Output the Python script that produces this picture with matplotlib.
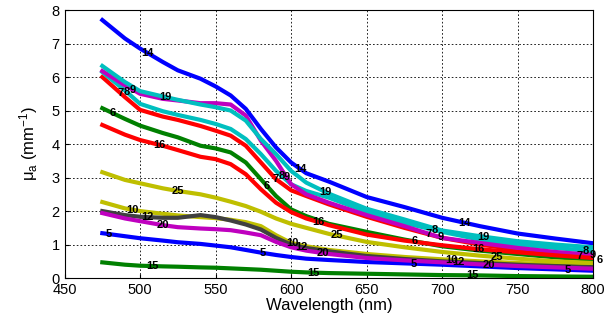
import matplotlib
matplotlib.use('Agg')
import matplotlib.pyplot as plt
import numpy as np

plt.rcParams['font.family'] = 'Liberation Sans'
plt.rcParams['mathtext.fontset'] = 'custom'
plt.rcParams['mathtext.rm'] = 'Liberation Sans'
plt.rcParams['mathtext.it'] = 'Liberation Sans'

wl = [475, 490, 500, 515, 525, 540, 550, 560, 570, 580, 590,
      600, 610, 625, 650, 675, 700, 725, 750, 775, 800]

# absorption coefficient mu_a (mm^-1), one list per sample
mu_5 = [1.34, 1.25, 1.19, 1.12, 1.07, 1.02, 0.97, 0.92, 0.84, 0.76, 0.69,
        0.63, 0.58, 0.54, 0.48, 0.44, 0.40, 0.35, 0.30, 0.26, 0.22]
mu_6 = [5.07, 4.75, 4.55, 4.33, 4.20, 3.95, 3.87, 3.75, 3.45, 2.95, 2.45,
        2.05, 1.85, 1.62, 1.38, 1.15, 0.95, 0.82, 0.72, 0.62, 0.55]
mu_7 = [6.00, 5.40, 5.02, 4.82, 4.72, 4.54, 4.40, 4.25, 3.95, 3.45, 2.95,
        2.62, 2.45, 2.20, 1.83, 1.50, 1.20, 1.00, 0.85, 0.72, 0.62]
mu_8 = [6.15, 5.60, 5.20, 4.98, 4.87, 4.72, 4.60, 4.45, 4.15, 3.70, 3.20,
        2.80, 2.60, 2.40, 1.98, 1.65, 1.38, 1.15, 1.00, 0.90, 0.80]
mu_9 = [6.18, 5.75, 5.50, 5.35, 5.30, 5.22, 5.22, 5.18, 4.85, 4.10, 3.50,
        2.80, 2.50, 2.25, 1.88, 1.55, 1.20, 1.05, 0.90, 0.78, 0.69]
mu_10 = [2.27, 2.08, 2.00, 1.92, 1.87, 1.82, 1.79, 1.74, 1.67, 1.55, 1.28,
         1.05, 0.95, 0.84, 0.72, 0.63, 0.56, 0.50, 0.45, 0.41, 0.38]
mu_12 = [2.00, 1.88, 1.83, 1.80, 1.80, 1.88, 1.82, 1.72, 1.60, 1.45, 1.20,
         1.00, 0.90, 0.80, 0.66, 0.57, 0.50, 0.45, 0.40, 0.36, 0.33]
mu_14 = [7.70, 7.15, 6.85, 6.45, 6.20, 5.95, 5.72, 5.45, 5.05, 4.45, 3.90,
         3.45, 3.13, 2.88, 2.42, 2.12, 1.80, 1.55, 1.33, 1.18, 1.04]
mu_15 = [0.47, 0.40, 0.37, 0.35, 0.34, 0.32, 0.31, 0.29, 0.27, 0.25, 0.22,
         0.19, 0.17, 0.15, 0.13, 0.11, 0.09, 0.08, 0.06, 0.05, 0.04]
mu_16 = [4.57, 4.28, 4.12, 3.95, 3.82, 3.62, 3.55, 3.40, 3.10, 2.65, 2.25,
         1.97, 1.78, 1.58, 1.30, 1.12, 0.98, 0.86, 0.77, 0.68, 0.60]
mu_19 = [6.33, 5.85, 5.58, 5.42, 5.32, 5.18, 5.10, 5.00, 4.70, 4.15, 3.70,
         3.20, 2.85, 2.52, 2.07, 1.75, 1.42, 1.25, 1.10, 1.00, 0.92]
mu_20 = [1.94, 1.78, 1.70, 1.58, 1.52, 1.48, 1.46, 1.43, 1.36, 1.28, 1.08,
         0.92, 0.82, 0.72, 0.60, 0.53, 0.47, 0.41, 0.36, 0.32, 0.28]
mu_25 = [3.16, 2.93, 2.83, 2.68, 2.60, 2.50, 2.40, 2.28, 2.15, 1.98, 1.78,
         1.62, 1.50, 1.32, 1.08, 0.92, 0.78, 0.67, 0.58, 0.50, 0.45]

sample_ids = [5, 6, 7, 8, 9, 10, 12, 14, 15, 16, 19, 20, 25]
curves = [mu_5, mu_6, mu_7, mu_8, mu_9, mu_10, mu_12, mu_14, mu_15, mu_16, mu_19, mu_20, mu_25]

# wavelengths where each curve carries its number
label_wl = {
    5: [479, 581, 681, 783],
    6: [482, 584, 682, 804],
    7: [487, 590, 691, 791],
    8: [491, 594, 695, 795],
    9: [495, 597, 699, 800],
    10: [495, 601, 706],
    12: [505, 607, 711],
    14: [505, 606, 715],
    15: [508, 615, 720],
    16: [513, 618, 724],
    19: [517, 623, 727],
    20: [515, 621, 731],
    25: [525, 630, 736],
}

# matlab-style 'bgrcmyk' cycle
colors = ['#0000FF', '#008000', '#FF0000', '#00BFBF', '#BF00BF', '#BFBF00', '#404040']

fig = plt.figure(figsize=(6.09, 3.23), dpi=100)
ax = fig.add_axes([0.106, 0.139, 0.868, 0.830])

for i, (sid, mu) in enumerate(zip(sample_ids, curves)):
    ax.plot(wl, mu, color=colors[i % len(colors)], lw=3, solid_joinstyle='round')

for sid, mu in zip(sample_ids, curves):
    for x in label_wl[sid]:
        y = np.interp(x, wl, mu)
        ax.text(x, y, str(sid), ha='center', va='center', fontsize=8,
                fontweight='bold', color='black', clip_on=False)

ax.set_xlim(450, 800)
ax.set_ylim(0, 8)
ax.set_xticks(range(450, 801, 50))
ax.set_yticks(range(0, 9))
ax.tick_params(labelsize=10.5, direction='in', length=3)
ax.grid(True, color='black', linestyle=(0, (2, 2.5)), linewidth=0.6)
ax.set_xlabel('Wavelength (nm)', fontsize=12, labelpad=1)
ax.set_ylabel(r'$\mu_a$ (mm$^{-1}$)', fontsize=12, labelpad=8)

fig.savefig('out.png', dpi=100)
